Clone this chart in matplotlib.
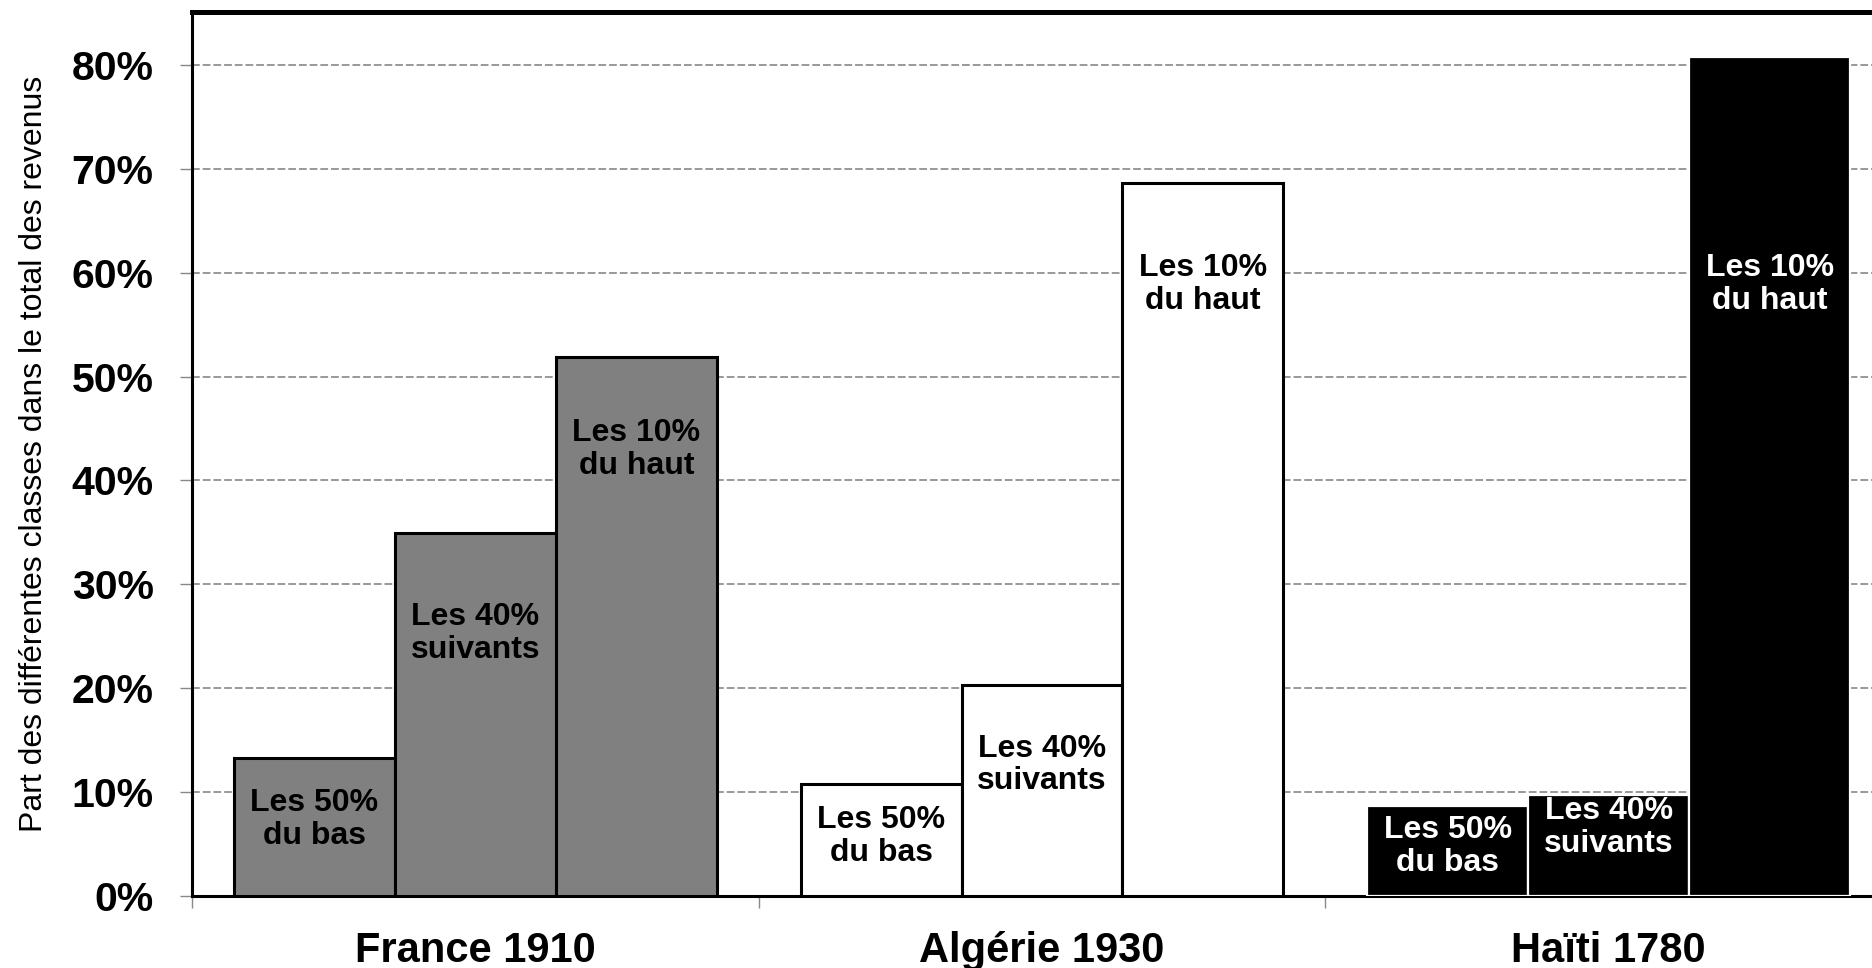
#!/usr/bin/env python3
"""
Part des différentes classes dans le total des revenus:
France 1910, Algérie 1930, Haïti 1780 (bars grouped by country).
"""

import numpy as np
import matplotlib
matplotlib.use('Agg')
import matplotlib.pyplot as plt

plt.rcParams['font.family'] = ['Liberation Sans', 'DejaVu Sans']

# ── data ────────────────────────────────────────────────────────────────
countries = ['France 1910', 'Algérie 1930', 'Haïti 1780']
classes = ['Les 50%\ndu bas', 'Les 40%\nsuivants', 'Les 10%\ndu haut']
shares = {
    'France 1910':  [13.3, 34.9, 51.9],
    'Algérie 1930': [10.8, 20.3, 68.6],
    'Haïti 1780':   [8.7, 9.7, 80.8],
}
y_ticks = [0, 10, 20, 30, 40, 50, 60, 70, 80]
y_label = 'Part des différentes classes dans le total des revenus'

# ── style ───────────────────────────────────────────────────────────────
face  = {'France 1910': '#808080', 'Algérie 1930': 'white', 'Haïti 1780': 'black'}
edge  = {'France 1910': 'black',   'Algérie 1930': 'black', 'Haïti 1780': 'white'}
txtc  = {'France 1910': 'black',   'Algérie 1930': 'black', 'Haïti 1780': 'white'}
# label centres (in %), as placed by hand in the original chart
label_y = {
    'France 1910':  [7.4, 25.3, 43.0],
    'Algérie 1930': [5.7, 12.6, 58.9],
    'Haïti 1780':   [4.8, 6.6, 58.9],
}

W, H, DPI = 1872, 968, 100
fig = plt.figure(figsize=(W / DPI, H / DPI), dpi=DPI)
# axes runs slightly past the right edge, as in the cropped original
ax = fig.add_axes([192 / W, (H - 896) / H, 1700 / W, 884 / H])

bw = 0.284
offsets = np.array([-1, 0, 1]) * bw
for ci, c in enumerate(countries):
    vals = shares[c]
    lw = 2.2 if c != 'Haïti 1780' else 1.6
    ax.bar(ci + offsets, vals, width=bw, color=face[c], edgecolor=edge[c],
           linewidth=lw, zorder=3)
    for k, (lab, v) in enumerate(zip(classes, vals)):
        ax.text(ci + offsets[k], label_y[c][k], lab, ha='center', va='center',
                fontsize=23, fontweight='bold', color=txtc[c],
                linespacing=1.12, zorder=4)

ax.set_xlim(-0.5, 2.5)
ax.set_ylim(0, 85.1)

ax.set_yticks(y_ticks)
ax.set_yticklabels([f'{t}%' for t in y_ticks], fontsize=29.5, fontweight='bold')
ax.tick_params(axis='y', length=8.6, width=1, color='#888888', pad=19)

ax.set_xticks(range(len(countries)))
ax.set_xticklabels(countries, fontsize=30, fontweight='bold')
ax.set_xticks([-0.5, 0.5, 1.5, 2.5], minor=True)
ax.tick_params(axis='x', which='major', length=0, pad=25)
ax.tick_params(axis='x', which='minor', length=8.6, width=1, color='#888888')

ax.set_ylabel(y_label, fontsize=23, labelpad=16)

ax.yaxis.grid(True, color='#999999', lw=1.4, ls=(0, (4, 1.5)), zorder=1)
ax.set_axisbelow(True)

for s in ['left', 'bottom']:
    ax.spines[s].set_linewidth(2.2)
    ax.spines[s].set_color('black')
ax.spines['top'].set_linewidth(3.6)
ax.spines['right'].set_linewidth(2.2)

fig.savefig('out.png', dpi=DPI)
print('Saved → out.png')
